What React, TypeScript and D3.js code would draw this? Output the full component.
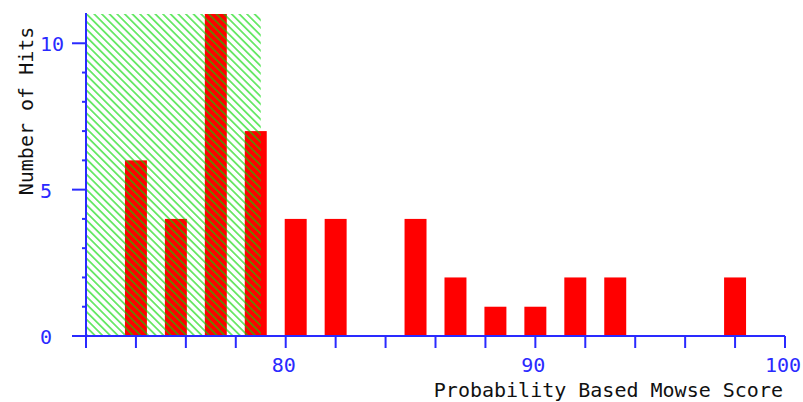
import { useEffect, useRef } from "react";
import * as d3 from "d3";

// histogram bins (centre of each bin) and hit counts
const binCenters = [74, 75.6, 77.2, 78.8, 80.4, 82, 83.6, 85.2, 86.8, 88.4, 90, 91.6, 93.2, 94.8, 96.4, 98];
const hitCounts = [6, 4, 11, 7, 4, 4, 0, 4, 2, 1, 1, 2, 2, 0, 0, 2];
const binWidth = 0.88;

// shaded (non significant) region
const shadedRange = [72, 79];

const xDomain = [72, 100];
const yDomain = [0, 11];
const xTickValues = d3.range(72, 101, 2);
const xLabelValues = [80, 90, 100];
const yTickValues = d3.range(0, 11, 1);
const yLabelValues = [0, 5, 10];

const xTitle = "Probability Based Mowse Score";
const yTitle = "Number of Hits";

export default function App() {
   const ref = useRef<SVGSVGElement>(null);

   const W = 803;
   const H = 402;
   const margin = { top: 14, right: 18, bottom: 66, left: 86 };

   useEffect(() => {
      const svg = d3.select(ref.current);
      svg.selectAll("*").remove();

      const font = "'DejaVu Sans Mono', monospace";
      const blue = "#2a2aff";

      const x = d3.scaleLinear().domain(xDomain).range([margin.left, W - margin.right]);
      const y = d3.scaleLinear().domain(yDomain).range([H - margin.bottom, margin.top]);

      svg.append("rect").attr("width", W).attr("height", H).attr("fill", "#fff");

      // hatch pattern
      const defs = svg.append("defs");
      const pat = defs.append("pattern")
         .attr("id", "hatch")
         .attr("patternUnits", "userSpaceOnUse")
         .attr("width", 5.4)
         .attr("height", 5.4)
         .attr("patternTransform", "rotate(-45)");
      pat.append("line")
         .attr("x1", 2.7).attr("y1", 0)
         .attr("x2", 2.7).attr("y2", 5.4)
         .attr("stroke", "#00d800")
         .attr("stroke-opacity", 0.6)
         .attr("stroke-width", 1.8);

      // bars
      svg.selectAll(".bar")
         .data(binCenters)
         .enter()
         .append("rect")
         .attr("class", "bar")
         .attr("x", (d) => x(d - binWidth / 2))
         .attr("y", (d, i) => y(hitCounts[i]))
         .attr("width", (d) => x(d + binWidth / 2) - x(d - binWidth / 2))
         .attr("height", (d, i) => y(0) - y(hitCounts[i]))
         .attr("fill", "#ff0000");

      // shaded region drawn over the bars
      svg.append("rect")
         .attr("x", x(shadedRange[0]))
         .attr("y", y(yDomain[1]))
         .attr("width", x(shadedRange[1]) - x(shadedRange[0]))
         .attr("height", y(0) - y(yDomain[1]))
         .attr("fill", "url(#hatch)");

      // x axis
      const xAxis = svg.append("g").attr("transform", `translate(0,${y(0)})`);
      xAxis.append("line")
         .attr("x1", margin.left - 14).attr("x2", x(xDomain[1]))
         .attr("stroke", blue).attr("stroke-width", 2);
      xAxis.selectAll(".xt")
         .data(xTickValues)
         .enter()
         .append("line")
         .attr("x1", (d) => x(d)).attr("x2", (d) => x(d))
         .attr("y1", 0).attr("y2", 12)
         .attr("stroke", blue).attr("stroke-width", 2);
      xAxis.selectAll(".xl")
         .data(xLabelValues)
         .enter()
         .append("text")
         .attr("x", (d) => x(d) - 2)
         .attr("y", 36)
         .attr("text-anchor", "middle")
         .attr("fill", blue)
         .style("font-family", font)
         .style("font-size", "20px")
         .text((d) => d);

      // y axis
      const yAxis = svg.append("g").attr("transform", `translate(${margin.left},0)`);
      yAxis.append("line")
         .attr("y1", y(yDomain[1]) - 1).attr("y2", y(0) + 12)
         .attr("stroke", blue).attr("stroke-width", 2);
      yAxis.selectAll(".yt")
         .data(yTickValues)
         .enter()
         .append("line")
         .attr("y1", (d) => y(d)).attr("y2", (d) => y(d))
         .attr("x1", (d) => (d % 5 === 0 ? -14 : -4)).attr("x2", 0)
         .attr("stroke", blue).attr("stroke-width", 2);
      yAxis.selectAll(".yl")
         .data(yLabelValues)
         .enter()
         .append("text")
         .attr("x", -46)
         .attr("y", (d) => y(d) + 8)
         .attr("fill", blue)
         .style("font-family", font)
         .style("font-size", "20px")
         .text((d) => d);

      // titles
      svg.append("text")
         .attr("x", 783)
         .attr("y", 397)
         .attr("text-anchor", "end")
         .attr("fill", "#111")
         .style("font-family", font)
         .style("font-size", "20px")
         .text(xTitle);

      svg.append("text")
         .attr("transform", "translate(33,111) rotate(-90)")
         .attr("text-anchor", "middle")
         .attr("fill", "#111")
         .style("font-family", font)
         .style("font-size", "20px")
         .text(yTitle);
   }, []);

   return (
      <svg
         ref={ref}
         width={W}
         height={H}
         style={{ position: "absolute", left: 0, top: 0, display: "block" }}
      />
   );
}
